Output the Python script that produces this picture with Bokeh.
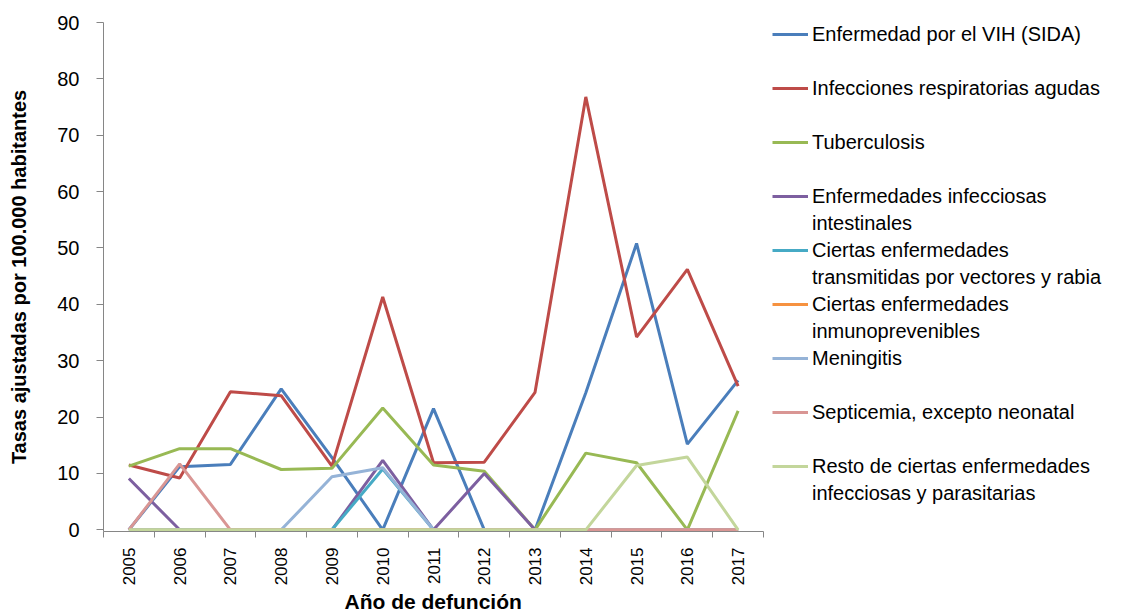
import math
from bokeh.plotting import figure
from bokeh.models import Legend, LegendItem, FixedTicker, Range1d, ColumnDataSource, Title
from bokeh.embed import file_html
from bokeh.resources import INLINE

# ---- data ----
years = [2005, 2006, 2007, 2008, 2009, 2010, 2011, 2012, 2013, 2014, 2015, 2016, 2017]
vih = [0, 11.2, 11.6, 25.0, 12.8, 0, 21.5, 0, 0, 24.3, 50.8, 15.2, 26.5]
ira = [11.5, 9.2, 24.5, 23.8, 11.3, 41.3, 11.9, 12.0, 24.4, 76.8, 34.2, 46.2, 25.5]
tuberculosis = [11.3, 14.4, 14.4, 10.7, 10.9, 21.6, 11.5, 10.4, 0, 13.6, 11.9, 0, 21.1]
intestinales = [9.1, 0, 0, 0, 0, 12.3, 0, 10.0, 0, 0, 0, 0, 0]
vectores = [0, 0, 0, 0, 0, 10.8, 0, 0, 0, 0, 0, 0, 0]
inmunoprevenibles = [0, 0, 0, 0, 0, 0, 0, 0, 0, 0, 0, 0, 0]
meningitis = [0, 0, 0, 0, 9.4, 11.0, 0, 0, 0, 0, 0, 0, 0]
septicemia = [0, 11.7, 0, 0, 0, 0, 0, 0, 0, 0, 0, 0, 0]
resto = [0, 0, 0, 0, 0, 0, 0, 0, 0, 0, 11.4, 12.9, 0]

# legend names: (first line, second line or "")
series_names = [
    ("Enfermedad por el VIH (SIDA)", ""),
    ("Infecciones respiratorias agudas", ""),
    ("Tuberculosis", ""),
    ("Enfermedades infecciosas", "intestinales"),
    ("Ciertas enfermedades", "transmitidas por vectores y rabia"),
    ("Ciertas enfermedades", "inmunoprevenibles"),
    ("Meningitis", ""),
    ("Septicemia, excepto neonatal", ""),
    ("Resto de ciertas enfermedades", "infecciosas y parasitarias"),
]
series_values = [vih, ira, tuberculosis, intestinales, vectores,
                 inmunoprevenibles, meningitis, septicemia, resto]
y_ticks = [0, 10, 20, 30, 40, 50, 60, 70, 80, 90]

x_label = "Año de defunción"
y_label = "Tasas ajustadas por 100.000 habitantes"

# ---- styles / layout ----
colors = ["#4A7EBB", "#BE4B48", "#98B954", "#7D5FA0", "#46AAC5",
          "#F69240", "#95B3D7", "#D99694", "#C3D69B"]
axis_gray = "#868686"
font = "Liberation Sans"

W, H = 1122, 611
left_px, top_px = 103, 22
plot_px = 660                      # width of the charted (axis) part
x_start = years[0] - 0.5
x_axis_end = years[-1] + 0.5
# frame spans the whole width; the part right of the axis holds the legend
x_end = x_start + (x_axis_end - x_start) * (W - left_px) / plot_px

p = figure(width=W, height=H, output_backend="svg", toolbar_location=None,
           x_range=Range1d(x_start, x_end),
           y_range=Range1d(-0.3, y_ticks[-1]),
           min_border_left=left_px, min_border_top=top_px, min_border_right=0,
           min_border_bottom=0)
p.outline_line_color = None
p.grid.visible = False
p.background_fill_color = "white"
p.border_fill_color = "white"

# invisible renderer used for legend continuation lines / spacing rows
blank = p.line(x=[], y=[], line_alpha=0)

items = []
for (line1, line2), vals, c in zip(series_names, series_values, colors):
    src = ColumnDataSource(dict(x=years, y=vals))
    r = p.line("x", "y", source=src, line_color=c, line_width=3)
    items.append(LegendItem(label=line1, renderers=[r]))
    items.append(LegendItem(label=line2 if line2 else " ", renderers=[blank]))

# x axis
xa = p.xaxis[0]
xa.bounds = (x_start, x_axis_end)
xa.ticker = FixedTicker(ticks=years, minor_ticks=[y - 0.5 for y in years] + [x_axis_end])
xa.axis_line_color = axis_gray
xa.major_tick_line_color = None
xa.major_tick_out = 0
xa.major_tick_in = 0
xa.minor_tick_line_color = axis_gray
xa.minor_tick_out = 6
xa.minor_tick_in = 0
xa.major_label_orientation = math.pi / 2
xa.major_label_text_font = font
xa.major_label_text_font_size = "17px"
xa.major_label_text_color = "black"
xa.major_label_standoff = 10

# x axis title, centred under the charted part
x_title = Title(text=x_label, align="left", offset=(plot_px / 2) - 89,
                standoff=-2, text_font=font, text_font_style="bold",
                text_font_size="21px", text_color="black")
p.add_layout(x_title, "below")

# y axis
ya = p.yaxis[0]
ya.ticker = FixedTicker(ticks=y_ticks)
ya.axis_line_color = axis_gray
ya.major_tick_line_color = axis_gray
ya.major_tick_out = 7
ya.major_tick_in = 0
ya.minor_tick_line_color = None
ya.major_label_text_font = font
ya.major_label_text_font_size = "20px"
ya.major_label_text_color = "black"
ya.major_label_standoff = 17
ya.axis_label = y_label
ya.axis_label_text_font = font
ya.axis_label_text_font_style = "bold"
ya.axis_label_text_font_size = "20px"
ya.axis_label_text_color = "black"
ya.axis_label_standoff = 24

legend = Legend(items=items, location=(plot_px + 9, 26), ncols=1, margin=0, padding=0,
                spacing=3, label_height=24, glyph_height=24, glyph_width=36,
                label_standoff=4, border_line_color=None,
                background_fill_alpha=0,
                label_text_font=font, label_text_font_size="20px",
                label_text_color="black")
p.add_layout(legend, "center")

open("out.html", "w").write(file_html(p, INLINE))
